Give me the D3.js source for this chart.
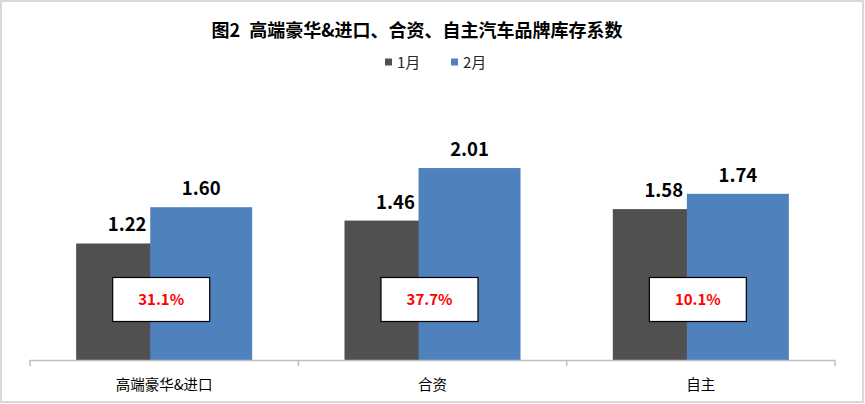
<!DOCTYPE html>
<html><head><meta charset="utf-8">
<script src="https://cdn.jsdelivr.net/npm/d3@7/dist/d3.min.js"></script>
<style>body{margin:0;background:#fff}svg{display:block}</style>
</head><body>
<svg id="c" width="865" height="404"></svg>
<script>
const categories = ["高端豪华&进口", "合资", "自主"];
const seriesNames = ["1月", "2月"];
const jan = [1.22, 1.46, 1.58];
const feb = [1.60, 2.01, 1.74];
const growth = ["31.1%", "37.7%", "10.1%"];
const title = "图2 高端豪华&进口、合资、自主汽车品牌库存系数";
const colors = ["#505050", "#4f81bd"];

const svg = d3.select("#c");
const font = "'Noto Sans CJK SC','Noto Sans',sans-serif";

svg.append("rect").attr("x",1).attr("y",1).attr("width",862).attr("height",401)
  .attr("fill","#fff").attr("stroke","#d9d9d9").attr("stroke-width",2);

const x = d3.scaleBand().domain(categories).range([30, 835]).padding(0);
const y = d3.scaleLinear().domain([0, 2.5]).range([360, 121.25]);
const step = x.step();
const barW = step * 0.38;
const shift = step * 0.276;
const groupW = barW + shift;

// title
svg.append("text").attr("x", 417).attr("y", 37).attr("text-anchor","middle")
  .attr("font-family", font).attr("font-weight","bold").attr("font-size", 18)
  .attr("fill","#000").attr("xml:space","preserve").text(title.replace(" ", "\u2002"));

// legend
const leg = svg.append("g");
[385, 451].forEach((lx, i) => {
  leg.append("rect").attr("x", lx).attr("y", 58.5).attr("width", 7).attr("height", 7).attr("fill", colors[i]);
  leg.append("text").attr("x", lx + 12).attr("y", 67.5).attr("font-family", font)
    .attr("font-size", 15).attr("fill", "#262626").text(seriesNames[i]);
});

const series = [jan, feb];
series.forEach((vals, si) => {
  const g = svg.append("g");
  g.selectAll("rect").data(categories).join("rect")
    .attr("x", (c) => x(c) + x.bandwidth()/2 - groupW/2 + si*shift)
    .attr("y", (c, i) => y(vals[i]))
    .attr("width", barW)
    .attr("height", (c, i) => y(0) - y(vals[i]))
    .attr("fill", colors[si]);
});
series.forEach((vals, si) => {
  svg.append("g").selectAll("text").data(categories).join("text")
    .attr("x", (c) => x(c) + x.bandwidth()/2 - groupW/2 + si*shift + barW/2)
    .attr("y", (c, i) => y(vals[i]) - 12)
    .attr("text-anchor","middle").attr("font-family", font).attr("font-weight","bold")
    .attr("font-size", 18.5).attr("fill","#000")
    .text((c, i) => vals[i].toFixed(2));
});

// growth boxes
const boxes = svg.append("g");
categories.forEach((c, i) => {
  const cx = x(c) + x.bandwidth()/2 - 3;
  boxes.append("rect").attr("x", cx - 48.5).attr("y", 277.5).attr("width", 97).attr("height", 44)
    .attr("fill","#fff").attr("stroke","#000").attr("stroke-width",1.2);
  boxes.append("text").attr("x", cx).attr("y", 305).attr("text-anchor","middle")
    .attr("font-family", font).attr("font-weight","bold").attr("font-size", 15)
    .attr("fill","#ff0000").text(growth[i]);
});

// axis
const ag = svg.append("g").attr("transform","translate(0,360)");
ag.append("line").attr("x1",30).attr("x2",835).attr("y1",0.5).attr("y2",0.5)
  .attr("stroke","#bfbfbf").attr("stroke-width",1.5);
const edges = [30].concat(categories.map(c => x(c) + x.bandwidth()));
ag.selectAll("line.tk").data(edges).join("line").attr("class","tk")
  .attr("x1", d => d).attr("x2", d => d).attr("y1", 0).attr("y2", 6)
  .attr("stroke","#bfbfbf").attr("stroke-width",1.5);
ag.selectAll("text").data(categories).join("text")
  .attr("x", c => x(c) + x.bandwidth()/2).attr("y", 30)
  .attr("text-anchor","middle").attr("font-family", font).attr("font-size", 14.5)
  .attr("fill","#000").text(c => c);
</script>
</body></html>
